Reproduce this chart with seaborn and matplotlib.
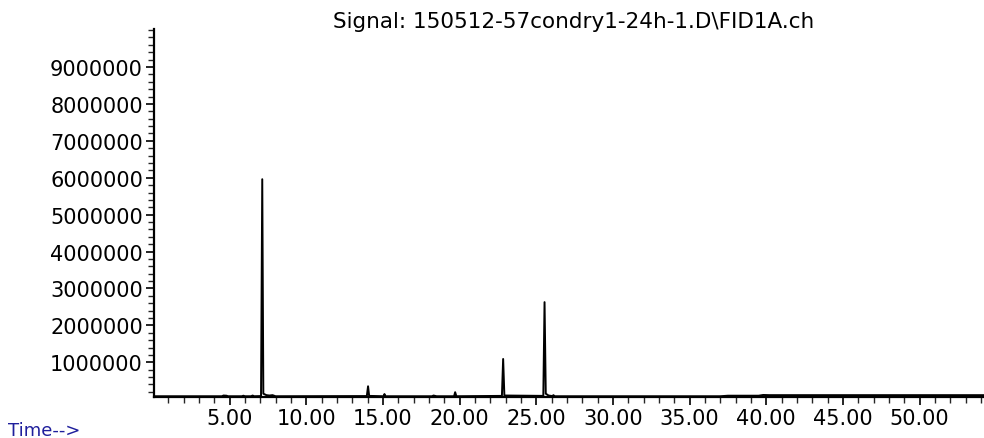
import matplotlib
matplotlib.use("Agg")
import matplotlib.pyplot as plt
import seaborn as sns
import numpy as np
import pandas as pd
from matplotlib.ticker import MultipleLocator, FuncFormatter

# ---- data (time in min, abundance) ----
times = [0.07, 4.50, 4.60, 4.80, 4.90, 5.80, 5.90, 6.00, 6.40, 6.50, 6.60,
         7.05, 7.13, 7.20, 7.40, 7.60, 7.80, 8.00,
         13.95, 14.03, 14.10, 15.05, 15.10, 15.16, 18.20, 18.30, 18.50,
         19.64, 19.71, 19.79, 22.76, 22.84, 22.92,
         25.46, 25.54, 25.62, 25.80, 26.05, 26.12, 26.20,
         37.00, 37.50, 39.50, 39.80, 40.20, 54.30]
signal = [80000, 80000, 100000, 95000, 80000, 80000, 95000, 80000, 80000, 100000, 80000,
          85000, 5960000, 150000, 110000, 100000, 110000, 80000,
          85000, 350000, 90000, 80000, 140000, 80000, 80000, 100000, 80000,
          80000, 190000, 80000, 90000, 1090000, 100000,
          90000, 2630000, 150000, 100000, 85000, 110000, 80000,
          80000, 95000, 95000, 115000, 110000, 110000]
y_ticks = [1000000, 2000000, 3000000, 4000000, 5000000, 6000000, 7000000, 8000000, 9000000]
x_ticks = [5, 10, 15, 20, 25, 30, 35, 40, 45, 50]
title_text = "Signal: 150512-57condry1-24h-1.D\\FID1A.ch"
xlabel_text = "Time-->"

sns.set_style("ticks")
plt.rcParams['font.family'] = ['DejaVu Sans']

fig = plt.figure(figsize=(9.84, 4.39), dpi=100)
ax = fig.add_axes([154/984, (439-397.7)/439, 1 - 154/984, (397.7-30)/439])

df = pd.DataFrame({"time": times, "signal": signal})
sns.lineplot(data=df, x="time", y="signal", color="black", linewidth=1.4, ax=ax,
             estimator=None, sort=False)

ax.set_xlim(0.07, 54.2)
ax.set_ylim(68000, 10030000)

ax.set_xticks(x_ticks)
ax.xaxis.set_minor_locator(MultipleLocator(1))
ax.set_yticks(y_ticks)
ax.yaxis.set_minor_locator(MultipleLocator(200000))
ax.yaxis.set_major_formatter(FuncFormatter(lambda v, p: f"{int(round(v))}"))
ax.xaxis.set_major_formatter(FuncFormatter(lambda v, p: f"{v:.2f}"))

ax.tick_params(axis="both", which="major", length=6, width=1.2, labelsize=15, colors="black")
ax.tick_params(axis="both", which="minor", length=4, width=1.0)
ax.tick_params(axis="x", which="major", pad=2)
ax.tick_params(axis="y", which="major", pad=2)

for s in ["top", "right"]:
    ax.spines[s].set_visible(False)
for s in ["left", "bottom"]:
    ax.spines[s].set_linewidth(1.6)
    ax.spines[s].set_color("black")

ax.set_xlabel("")
ax.set_ylabel("")

fig.text(574/984, 1 - 28/439, title_text, ha="center", va="baseline", fontsize=15.5, color="black")
fig.text(8/984, 1 - 436/439, xlabel_text, ha="left", va="baseline", fontsize=13, color="#1f1f9c")

fig.savefig("out.png", dpi=100)
